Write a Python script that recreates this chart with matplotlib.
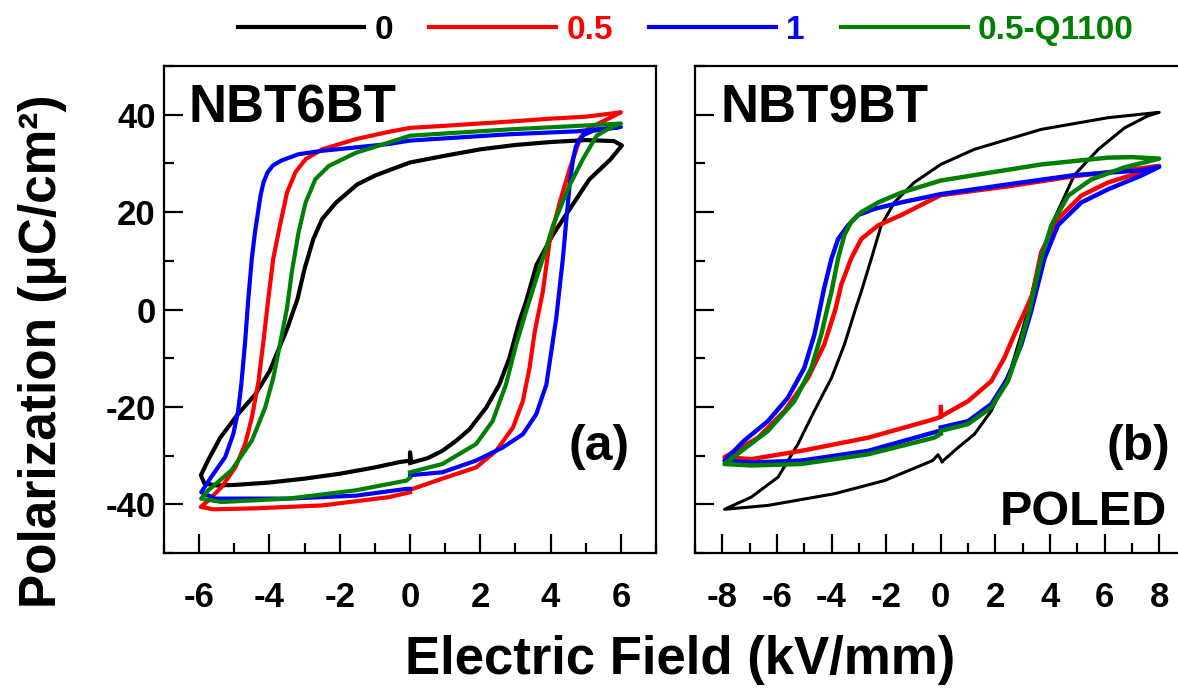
import matplotlib
matplotlib.use("Agg")
import matplotlib.pyplot as plt
from matplotlib.lines import Line2D
from matplotlib.ticker import MultipleLocator

plt.rcParams['font.family'] = ['Liberation Sans', 'DejaVu Sans']
plt.rcParams['font.weight'] = 'bold'
plt.rcParams['axes.unicode_minus'] = False

# Sample labels and colours
labels = ["0", "0.5", "1", "0.5-Q1100"]
colors = ["black", "red", "blue", "green"]

# ---------------- NBT6BT (panel a), E in kV/mm, P in uC/cm^2 ----------------
e_6bt_0 = [0.0, 0.5, 0.92, 1.3, 1.69, 2.17, 2.54, 2.83, 3.11, 3.3, 3.6, 4.06, 4.54, 5.1, 5.7, 6.03,
           5.8, 5.0, 4.0, 3.0, 2.0, 1.0, 0.0, -0.6, -1.0, -1.5, -2.1, -2.5, -2.75, -3.0, -3.2, -3.5,
           -4.0, -4.4, -4.9, -5.4, -5.75, -5.95, -5.85,
           -5.5, -5.0, -4.0, -3.0, -2.0, -1.0, -0.3, 0.0, 0.0, 0.03]
p_6bt_0 = [-31.5, -30.5, -29.0, -27.0, -24.6, -20.1, -15.4, -9.9, -2.4, 1.6, 9.2, 15.3, 20.6, 26.7, 30.8, 33.7,
           34.6, 34.8, 34.4, 33.8, 32.9, 31.6, 30.2, 28.6, 27.5, 25.7, 22.0, 18.6, 14.5, 8.4, 2.2, -4.0,
           -12.7, -17.4, -21.5, -26.3, -31.0, -34.0, -35.7,
           -36.1, -36.0, -35.5, -34.7, -33.7, -32.4, -31.3, -31.0, -29.3, -31.2]

e_6bt_05 = [0.0, 0.92, 1.88, 2.45, 2.93, 3.21, 3.4, 3.55, 3.78, 3.97, 4.26, 4.54, 4.83, 4.95, 5.11, 5.7, 6.0,
            5.0, 4.0, 2.83, 0.92, 0.0, -0.6, -1.54, -2.5, -2.97, -3.26, -3.5, -3.7, -3.89, -4.03, -4.17,
            -4.31, -4.5, -4.69, -4.97, -5.37, -5.74, -5.95,
            -5.6, -4.4, -2.5, -0.6, 0.0]
p_6bt_05 = [-37.0, -34.7, -32.4, -29.0, -24.2, -18.8, -12.0, -4.5, 3.7, 13.9, 22.0, 28.8, 35.0, 36.4, 37.3, 39.4, 40.5,
            39.6, 39.2, 38.6, 37.7, 37.3, 36.5, 35.0, 32.9, 30.9, 28.2, 24.0, 17.3, 10.5, 2.3, -6.5,
            -14.7, -22.2, -27.6, -32.4, -36.5, -39.2, -40.5,
            -41.0, -40.8, -40.2, -38.5, -37.5]

e_6bt_1 = [0.0, 0.92, 1.88, 2.64, 3.21, 3.59, 3.88, 4.02, 4.16, 4.35, 4.45, 4.54, 4.64, 4.72, 4.83, 4.95,
           5.21, 6.0,
           4.74, 2.83, 0.0, -0.6, -1.54, -2.5, -3.17, -3.66, -3.9, -4.05, -4.17, -4.25, -4.31, -4.41,
           -4.5, -4.6, -4.69, -4.8, -4.89, -5.03, -5.26, -5.66, -5.94,
           -5.54, -3.46, -1.54, -0.1, 0.0]
p_6bt_1 = [-34.0, -33.4, -31.0, -28.3, -25.6, -21.5, -15.4, -8.6, -1.8, 10.5, 18.6, 25.4, 30.9, 33.5, 35.0, 35.9,
           36.7, 37.5,
           36.6, 36.0, 34.7, 34.0, 33.3, 32.6, 31.9, 30.6, 29.6, 28.2, 26.1, 23.5, 20.7, 15.9,
           10.5, 2.3, -6.5, -15.4, -20.8, -25.6, -30.3, -34.4, -37.5,
           -38.8, -38.8, -38.2, -36.8, -36.8]

e_6bt_q = [0.0, 0.92, 1.88, 2.35, 2.73, 3.02, 3.3, 3.6, 3.85, 4.07, 4.54, 4.92, 5.31, 5.69, 6.0,
           4.74, 2.83, 0.0, -0.6, -1.54, -2.31, -2.69, -2.97, -3.17, -3.36, -3.5, -3.74, -3.89, -4.12,
           -4.5, -5.08, -5.74, -5.94,
           -5.37, -3.46, -1.54, -0.1, 0.0]
p_6bt_q = [-33.4, -31.7, -27.6, -22.9, -15.4, -7.2, -0.4, 6.5, 12.0, 17.3, 25.5, 30.9, 35.7, 37.3, 38.2,
           37.7, 37.0, 35.7, 34.3, 32.2, 29.5, 26.8, 22.0, 15.9, 7.8, 0.3, -8.6, -14.0, -20.1,
           -26.9, -33.0, -37.1, -38.8,
           -39.5, -38.8, -37.1, -35.1, -34.5]

# ---------------- NBT9BT (panel b) ----------------
e_9bt_0 = [0.05, 0.64, 1.23, 1.85, 2.2, 2.58, 2.95, 3.2, 3.45, 4.05, 4.89, 5.77, 6.73, 7.6, 8.0,
           6.13, 3.68, 1.23, 0.0, -0.97, -1.7, -2.18, -2.54, -2.91, -3.1, -3.53, -4.0, -4.63, -5.23,
           -5.96, -6.94, -7.92,
           -6.33, -3.89, -2.06, -0.3, -0.1, 0.05]
p_9bt_0 = [-31.2, -28.3, -25.6, -20.8, -16.7, -12.0, -5.0, 0.0, 6.0, 17.3, 27.6, 32.9, 37.3, 39.8, 40.5,
           39.4, 37.0, 32.9, 29.8, 26.1, 22.0, 17.3, 10.5, 3.7, 0.5, -7.2, -14.0, -20.8, -27.6,
           -34.4, -38.5, -41.0,
           -40.2, -37.8, -35.1, -31.0, -29.8, -31.2]

e_9bt_05 = [0.05, 1.0, 1.85, 2.33, 2.69, 3.07, 3.35, 3.68, 4.29, 5.15, 6.13, 7.34, 8.0,
            7.34, 4.89, 2.46, 0.0, -1.45, -2.29, -2.91, -3.28, -3.64, -3.86, -4.27, -4.86, -5.72,
            -6.69, -7.92,
            -6.94, -5.11, -2.66, -0.24, 0.0, 0.0]
p_9bt_05 = [-21.8, -18.8, -14.7, -9.9, -5.2, -0.5, 3.0, 11.8, 18.6, 23.4, 26.1, 28.2, 29.5,
            29.0, 27.4, 25.3, 23.5, 19.4, 17.3, 14.5, 10.5, 5.2, 0.0, -7.2, -14.0, -20.8,
            -26.3, -30.3,
            -30.7, -29.0, -26.3, -22.5, -22.0, -20.0]

e_9bt_1 = [0.0, 1.0, 1.85, 2.46, 2.95, 3.31, 3.8, 4.29, 5.15, 6.13, 7.34, 8.0,
           7.34, 4.89, 2.46, 0.0, -1.45, -2.42, -3.03, -3.39, -3.76, -4.0, -4.27, -4.5, -4.63, -5.0,
           -5.6, -6.33, -7.2, -7.92,
           -6.94, -5.11, -2.66, -0.24, 0.0]
p_9bt_1 = [-24.2, -22.9, -19.4, -14.0, -7.2, -0.4, 10.5, 17.3, 22.0, 24.7, 27.5, 29.3,
           28.6, 27.6, 25.7, 23.7, 22.0, 20.7, 19.4, 17.3, 14.5, 10.5, 4.4, -1.8, -5.2, -12.0,
           -18.1, -22.9, -26.9, -31.0,
           -31.4, -31.0, -29.0, -25.2, -24.8]

e_9bt_q = [0.0, 1.0, 1.85, 2.46, 2.88, 3.24, 3.68, 4.05, 4.67, 5.51, 6.73, 8.0,
           7.0, 6.13, 3.68, 0.0, -1.45, -2.29, -2.91, -3.28, -3.53, -3.76, -4.0, -4.12, -4.38, -4.74,
           -5.36, -6.33, -7.2, -7.92,
           -6.94, -5.11, -2.66, -0.24, 0.0]
p_9bt_q = [-24.9, -23.5, -20.1, -14.7, -7.9, -0.4, 10.5, 17.3, 23.4, 26.7, 29.2, 31.0,
           31.3, 31.2, 29.8, 26.5, 24.0, 22.0, 20.0, 18.0, 15.3, 10.5, 3.7, 1.0, -5.2, -12.0,
           -18.8, -24.9, -28.6, -31.7,
           -32.0, -31.7, -29.7, -26.3, -25.5]

loops_6bt = [(e_6bt_0, p_6bt_0), (e_6bt_05, p_6bt_05), (e_6bt_1, p_6bt_1), (e_6bt_q, p_6bt_q)]
loops_9bt = [(e_9bt_0, p_9bt_0), (e_9bt_05, p_9bt_05), (e_9bt_1, p_9bt_1), (e_9bt_q, p_9bt_q)]

xticks_6bt = [-6, -4, -2, 0, 2, 4, 6]
xticks_9bt = [-8, -6, -4, -2, 0, 2, 4, 6, 8]
yticks = [-40, -20, 0, 20, 40]

fig = plt.figure(figsize=(11.78, 6.88), dpi=100)
ax_a = fig.add_axes([0.1392, 0.196, 0.4177, 0.708])
ax_b = fig.add_axes([0.590, 0.196, 0.410, 0.708])

for (e, p), c in zip(loops_6bt, colors):
    ax_a.plot(e, p, color=c, lw=3.0, solid_joinstyle='round')
for (e, p), c in zip(loops_9bt, colors):
    ax_b.plot(e, p, color=c, lw=2.2 if c == "black" else 3.2, solid_joinstyle='round')

ax_a.set_xlim(-7, 7)
ax_b.set_xlim(-9, 8.69)
for ax, xt in ((ax_a, xticks_6bt), (ax_b, xticks_9bt)):
    ax.set_ylim(-50, 50)
    ax.set_xticks(xt)
    ax.set_yticks(yticks)
    ax.xaxis.set_minor_locator(MultipleLocator(1))
    ax.yaxis.set_minor_locator(MultipleLocator(10))
    ax.tick_params(which='both', direction='in', width=1.6, top=False, right=False)
    ax.tick_params(which='major', length=14)
    ax.tick_params(which='minor', length=7)
    ax.tick_params(axis='x', which='major', labelsize=25, pad=20)
    ax.tick_params(axis='y', which='major', labelsize=25, pad=6)
    for s in ax.spines.values():
        s.set_linewidth(1.6)
    for lab in ax.get_xticklabels() + ax.get_yticklabels():
        lab.set_fontweight('bold')

ax_b.set_yticklabels([])
ax_b.spines['right'].set_visible(False)

txt = dict(fontsize=38, fontweight='bold')
ax_a.text(0.049, 0.885, "NBT6BT", transform=ax_a.transAxes, ha='left', va='baseline', **txt)
ax_b.text(0.052, 0.885, "NBT9BT", transform=ax_b.transAxes, ha='left', va='baseline', **txt)
ax_a.text(0.947, 0.191, "(a)", transform=ax_a.transAxes, ha='right', va='baseline', fontsize=36, fontweight='bold')
ax_b.text(0.983, 0.191, "(b)", transform=ax_b.transAxes, ha='right', va='baseline', fontsize=36, fontweight='bold')
ax_b.text(0.977, 0.0575, "POLED", transform=ax_b.transAxes, ha='right', va='baseline', fontsize=35, fontweight='bold')

fig.text(0.577, 0.041, "Electric Field (kV/mm)", ha='center', va='center', fontsize=38, fontweight='bold')
fig.text(0.036, 0.49, "Polarization (\u03bcC/cm\u00b2)", ha='center', va='center', rotation=90,
         fontsize=37, fontweight='bold')

handles = [Line2D([], [], color=c, lw=3.0) for c in colors]
leg = fig.legend(handles, labels, ncol=4, loc='center', bbox_to_anchor=(0.582, 0.956),
                 frameon=False, fontsize=24, handlelength=3.8, handletextpad=0.3,
                 columnspacing=1.1, labelcolor=colors)
for t in leg.get_texts():
    t.set_fontweight('bold')

fig.savefig("out.png", dpi=100)
